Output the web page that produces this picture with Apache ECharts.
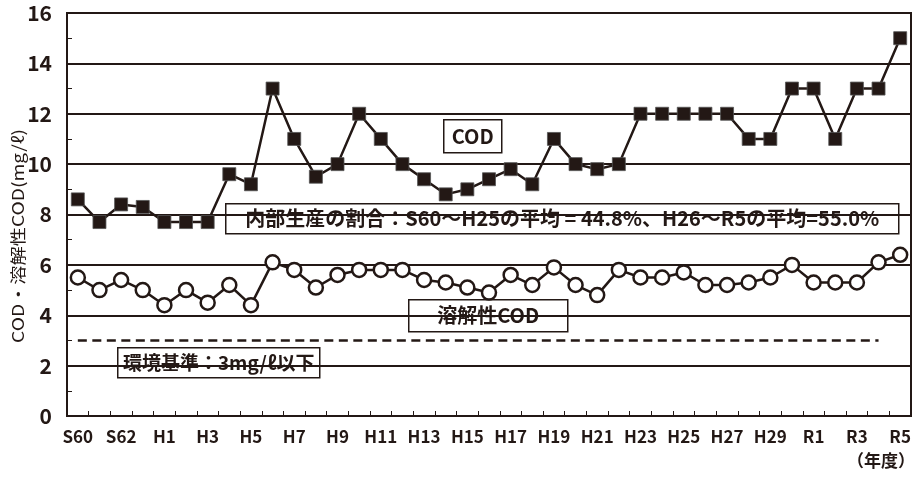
<!DOCTYPE html>
<html><head><meta charset="utf-8">
<script src="https://cdn.jsdelivr.net/npm/echarts@6/dist/echarts.min.js"></script>
<style>html,body{margin:0;padding:0;background:#fff}#c{width:921px;height:477px}</style>
</head><body><div id="c"></div>
<script>
const categories = ['S60','S61','S62','S63','H1','H2','H3','H4','H5','H6','H7','H8','H9','H10','H11','H12','H13','H14','H15','H16','H17','H18','H19','H20','H21','H22','H23','H24','H25','H26','H27','H28','H29','H30','R1','R2','R3','R4','R5'];
const codValues = [8.6,7.7,8.4,8.3,7.7,7.7,7.7,9.6,9.2,13,11,9.5,10,12,11,10,9.4,8.8,9.0,9.4,9.8,9.2,11,10,9.8,10,12,12,12,12,12,11,11,13,13,11,13,13,15];
const solubleValues = [5.5,5.0,5.4,5.0,4.4,5.0,4.5,5.2,4.4,6.1,5.8,5.1,5.6,5.8,5.8,5.8,5.4,5.3,5.1,4.9,5.6,5.2,5.9,5.2,4.8,5.8,5.5,5.5,5.7,5.2,5.2,5.3,5.5,6.0,5.3,5.3,5.3,6.1,6.4];
const standardValue = 3;
const yTicks = [0,2,4,6,8,10,12,14,16];
const labelCod = 'COD';
const labelSoluble = '溶解性COD';
const labelRatio = '内部生産の割合：S60～H25の平均 = 44.8%、H26～R5の平均=55.0%';
const labelStandard = '環境基準：3mg/ℓ以下';
const yAxisName = 'COD・溶解性COD(mg/ℓ)';
const xUnit = '（年度）';

const INK = '#231815';
const FONT = "'Liberation Sans Narrow','Noto Sans CJK JP',sans-serif";
const chart = echarts.init(document.getElementById('c'), null, {renderer:'canvas'});

function box(x, y, w, h, text, size) {
  return {
    type: 'group', left: x, top: y,
    children: [
      {type:'rect', shape:{x:0,y:0,width:w,height:h}, style:{fill:'#fff', stroke:INK, lineWidth:1.5}},
      {type:'text', x:w/2, y:h/2, style:{text:text, fill:INK, font:'bold '+size+'px '+FONT, align:'center', verticalAlign:'middle'}}
    ]
  };
}

chart.setOption({
  animation: false,
  backgroundColor: '#fff',
  grid: {left:67, right:10, top:13, bottom:61, show:true, borderColor:INK, borderWidth:2, backgroundColor:'transparent'},
  xAxis: {
    type:'category', data: categories, boundaryGap:true,
    axisLine:{lineStyle:{color:INK, width:2}},
    axisTick:{show:true, inside:true, length:5, interval:0, lineStyle:{color:INK, width:1}},
    axisLabel:{interval:1, color:INK, fontSize:17, fontWeight:'bold', fontFamily:FONT, margin:12},
    splitLine:{show:false}
  },
  yAxis: {
    type:'value', min: yTicks[0], max: yTicks[yTicks.length-1], interval: 2,
    axisLine:{show:true, lineStyle:{color:INK, width:2}},
    axisTick:{show:true, inside:true, length:5, lineStyle:{color:INK, width:1}},
    minorTick:{show:true, splitNumber:2, length:5, lineStyle:{color:INK, width:1}},
    axisLabel:{color:INK, fontSize:21, fontWeight:'bold', fontFamily:FONT, margin:15},
    splitLine:{show:true, lineStyle:{color:INK, width:2}}
  },
  series: [
    {
      name:'COD', type:'line', data: codValues, z:5,
      symbol:'rect', symbolSize:13,
      itemStyle:{color:INK, borderColor:'#555', borderWidth:0.8},
      lineStyle:{color:INK, width:2.5}
    },
    {
      name:'溶解性COD', type:'line', data: solubleValues, z:5,
      symbol:'circle', symbolSize:14,
      itemStyle:{color:'#fff', borderColor:INK, borderWidth:2.5},
      lineStyle:{color:INK, width:2.5},
      markLine:{
        silent:true, symbol:['none','none'], label:{show:false},
        lineStyle:{color:INK, width:2.5, type:[9,5.5]},
        data:[[{coord:[categories[0], standardValue]},{coord:[categories[categories.length-2], standardValue]}]]
      }
    }
  ],
  graphic: [
    box(443, 119, 58, 33, labelCod, 20),
    box(225, 203, 673, 30, labelRatio, 20),
    box(408, 299, 159, 32, labelSoluble, 20),
    box(117, 347, 202, 30, labelStandard, 19),
    {type:'text', x:18, y:236, rotation:Math.PI/2, scaleX:1.2, style:{text:yAxisName, fill:INK, font:'16px '+FONT, align:'center', verticalAlign:'middle'}},
    {type:'text', right:6, top:452, style:{text:xUnit, fill:INK, font:'bold 17px '+FONT}}
  ]
});
</script></body></html>
